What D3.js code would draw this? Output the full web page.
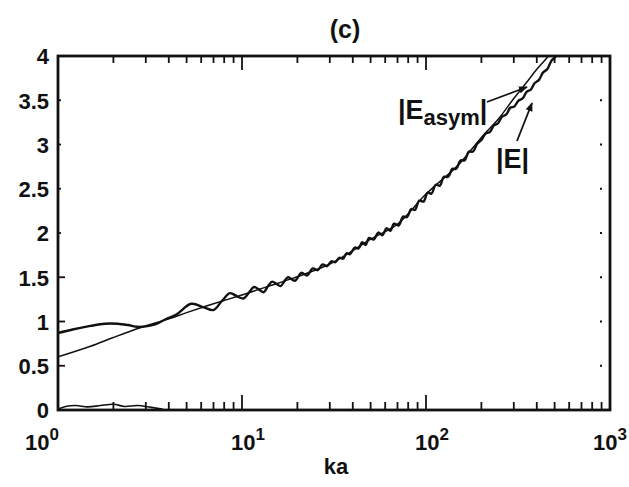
<!DOCTYPE html>
<html>
<head>
<meta charset="utf-8">
<script src="https://cdn.jsdelivr.net/npm/d3@7"></script>
<style>
  body { margin: 0; background: #fff; }
  text { font-family: "Liberation Sans", Arial, sans-serif; font-weight: bold; fill: #111; }
</style>
</head>
<body>
<div id="chart"></div>
<script>
// values (ka on a log axis, field magnitude on a linear one)
const kaAsym = [1, 1.5, 2, 2.8, 4, 5, 7, 10, 14, 19, 30, 40, 50, 70, 100, 150, 200, 250, 300, 358, 400, 450, 462, 490];
const eAsym  = [0.60, 0.72, 0.82, 0.93, 1.03, 1.10, 1.20, 1.30, 1.40, 1.49, 1.65, 1.80, 1.93, 2.10, 2.44, 2.77, 3.08, 3.30, 3.52, 3.72, 3.85, 3.97, 4.0, 4.08];

const kaE = [1.0, 1.2, 1.5, 1.8, 2.1, 2.4, 2.7, 3.0, 3.4, 3.8, 4.4, 5.3, 6.2, 7.0, 7.8, 8.6, 9.4, 10.2, 10.9, 11.6,
  12.4, 13.1, 13.8, 14.6, 15.4, 16.2, 17.0, 17.8, 19.4, 21.0, 22.6, 24.2, 25.8, 27.4, 29.0, 30.6, 32.2, 33.8, 35.4, 37.0, 38.6,
  41, 43, 45, 47, 49, 52, 55, 58, 61, 64, 67, 71, 75, 79, 83, 87, 92, 97, 102, 107, 113, 119, 125, 132, 139, 146,
  154, 162, 171, 180, 190, 200, 211, 222, 234, 246, 259, 273, 287, 302, 318, 335, 352, 371, 390, 411, 433, 456, 480, 505, 530];
const eAbs = [0.87, 0.91, 0.95, 0.975, 0.975, 0.96, 0.94, 0.945, 0.97, 1.02, 1.08, 1.20, 1.16, 1.13, 1.235, 1.32, 1.285, 1.26, 1.325, 1.39,
  1.36, 1.33, 1.395, 1.45, 1.425, 1.40, 1.455, 1.50, 1.46, 1.55, 1.52, 1.60, 1.58, 1.645, 1.625, 1.68, 1.67, 1.72, 1.71, 1.77, 1.76,
  1.835, 1.825, 1.895, 1.865, 1.945, 1.925, 2.005, 1.975, 2.055, 2.025, 2.105, 2.085, 2.185, 2.18, 2.27, 2.26, 2.365, 2.355, 2.455, 2.445, 2.545, 2.535, 2.635, 2.635, 2.725, 2.725,
  2.82, 2.82, 2.92, 2.92, 3.01, 3.05, 3.125, 3.14, 3.215, 3.24, 3.315, 3.34, 3.415, 3.43, 3.495, 3.52, 3.595, 3.62, 3.695, 3.73, 3.815, 3.85, 3.945, 3.99, 4.07];

// trace running along the bottom axis at small ka
const kaLow = [1.0, 1.1, 1.25, 1.45, 1.7, 2.0, 2.3, 2.7, 3.2, 3.7];
const eLow  = [0.01, 0.04, 0.05, 0.035, 0.05, 0.065, 0.04, 0.05, 0.03, 0.01];

const yTicks = [0, 0.5, 1, 1.5, 2, 2.5, 3, 3.5, 4];
const yTickLabels = ['0', '0.5', '1', '1.5', '2', '2.5', '3', '3.5', '4'];
const xDecades = [1, 10, 100, 1000];
const xExponents = ['0', '1', '2', '3'];

const W = 629, H = 487;
const plot = {left: 58, right: 610, top: 56, bottom: 410};

const svg = d3.select('#chart').append('svg')
  .attr('width', W)
  .attr('height', H);

const x = d3.scaleLog().domain([1, 1000]).range([plot.left, plot.right]);
const y = d3.scaleLinear().domain([0, 4]).range([plot.bottom, plot.top]);

svg.append('clipPath').attr('id', 'clip')
  .append('rect')
    .attr('x', plot.left).attr('y', plot.top)
    .attr('width', plot.right - plot.left).attr('height', plot.bottom - plot.top);

// curves
const line = d3.line()
  .x(d => x(d[0]))
  .y(d => y(d[1]))
  .curve(d3.curveCatmullRom.alpha(0.5));

const curves = svg.append('g').attr('clip-path', 'url(#clip)');

curves.append('path')
  .datum(kaAsym.map((k, i) => [k, eAsym[i]]))
  .attr('d', line)
  .attr('fill', 'none')
  .attr('stroke', '#111')
  .attr('stroke-width', 1.5);

curves.append('path')
  .datum(kaE.map((k, i) => [k, eAbs[i]]))
  .attr('d', line)
  .attr('fill', 'none')
  .attr('stroke', '#111')
  .attr('stroke-width', 2.4)
  .attr('stroke-linejoin', 'round');

curves.append('path')
  .datum(kaLow.map((k, i) => [k, eLow[i]]))
  .attr('d', line)
  .attr('fill', 'none')
  .attr('stroke', '#111')
  .attr('stroke-width', 1.6);

// frame
svg.append('rect')
  .attr('x', plot.left).attr('y', plot.top)
  .attr('width', plot.right - plot.left).attr('height', plot.bottom - plot.top)
  .attr('fill', 'none')
  .attr('stroke', '#111')
  .attr('stroke-width', 2.8);

// x ticks, pointing inward on bottom and top
const xt = x.ticks().filter(t => t > 1 && t < 1000);
const isMajor = t => xDecades.includes(t);

const ticks = svg.append('g').attr('stroke', '#111').attr('stroke-width', 1.8);
ticks.selectAll('.tb').data(xt).enter().append('line')
  .attr('x1', d => x(d)).attr('x2', d => x(d))
  .attr('y1', plot.bottom).attr('y2', d => plot.bottom - (isMajor(d) ? 15 : 8));
ticks.selectAll('.tt').data(xt).enter().append('line')
  .attr('x1', d => x(d)).attr('x2', d => x(d))
  .attr('y1', plot.top).attr('y2', d => plot.top + (isMajor(d) ? 14 : 7));

// y ticks: short on the left, tiny marks on the right
ticks.selectAll('.tl').data(yTicks.slice(1, -1)).enter().append('line')
  .attr('x1', plot.left).attr('x2', d => plot.left + (d <= 1.5 ? 7 : 3))
  .attr('y1', d => y(d)).attr('y2', d => y(d));
ticks.selectAll('.tr').data(yTicks.slice(1, -1)).enter().append('line')
  .attr('x1', plot.right - 10).attr('x2', plot.right - 8)
  .attr('y1', d => y(d)).attr('y2', d => y(d));

// y tick labels
svg.append('g').selectAll('text')
  .data(yTicks).enter().append('text')
    .attr('x', plot.left - 9)
    .attr('y', d => y(d))
    .attr('dy', '0.38em')
    .attr('text-anchor', 'end')
    .style('font-size', '22px')
    .text((d, i) => yTickLabels[i]);

// x tick labels 10^n (first and last pushed inside the window)
const nDec = xDecades.length;
const xl = svg.append('g').selectAll('text')
  .data(xDecades).enter().append('text')
    .attr('x', (d, i) => i === 0 ? x(d) + 1 : i === nDec - 1 ? W - 2 : x(d) + 6)
    .attr('y', 450)
    .attr('text-anchor', (d, i) => i === 0 || i === nDec - 1 ? 'end' : 'middle')
    .style('font-size', '22px');
xl.append('tspan').text('10');
xl.append('tspan')
  .attr('dy', -10)
  .style('font-size', '17px')
  .text((d, i) => xExponents[i]);

// axis title and panel label
svg.append('text')
  .attr('x', 336).attr('y', 474)
  .attr('text-anchor', 'middle')
  .style('font-size', '22px')
  .text('ka');

svg.append('text')
  .attr('x', 345).attr('y', 38)
  .attr('text-anchor', 'middle')
  .style('font-size', '25px')
  .text('(c)');

// curve labels with arrows
svg.append('defs').append('marker')
  .attr('id', 'arrow')
  .attr('viewBox', '0 0 10 10')
  .attr('refX', 9).attr('refY', 5)
  .attr('markerWidth', 5).attr('markerHeight', 5)
  .attr('orient', 'auto')
  .append('path')
    .attr('d', 'M0,1 L10,5 L0,9 Z')
    .attr('fill', '#111');

const asymLabel = svg.append('text')
  .attr('x', 398).attr('y', 119)
  .style('font-size', '27px');
asymLabel.append('tspan').text('|E');
asymLabel.append('tspan').attr('dy', 6).style('font-size', '22px').text('asym');
asymLabel.append('tspan').attr('dy', -6).text('|');

svg.append('line')
  .attr('x1', 487).attr('y1', 102)
  .attr('x2', 527).attr('y2', 87)
  .attr('stroke', '#111').attr('stroke-width', 1.8)
  .attr('marker-end', 'url(#arrow)');

svg.append('text')
  .attr('x', 496).attr('y', 168)
  .style('font-size', '27px')
  .text('|E|');

svg.append('line')
  .attr('x1', 517).attr('y1', 141)
  .attr('x2', 532).attr('y2', 103)
  .attr('stroke', '#111').attr('stroke-width', 1.8)
  .attr('marker-end', 'url(#arrow)');
</script>
</body>
</html>
